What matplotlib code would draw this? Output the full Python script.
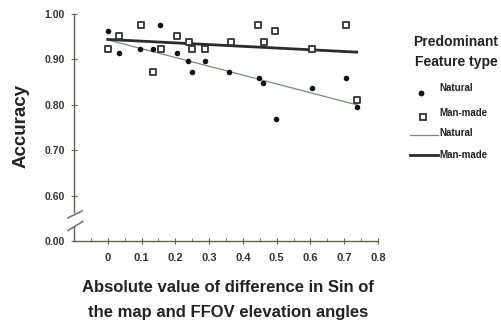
import matplotlib
matplotlib.use("Agg")
import matplotlib.pyplot as plt
from matplotlib.lines import Line2D

plt.rcParams['font.family'] = ['Liberation Sans', 'DejaVu Sans']

# Accuracy vs. |sin(map elevation) - sin(FFOV elevation)|
natural_x = [0.0, 0.033, 0.095, 0.133, 0.154, 0.204, 0.237, 0.25, 0.287, 0.36,
             0.447, 0.46, 0.497, 0.604, 0.704, 0.737]
natural_y = [0.962, 0.913, 0.924, 0.924, 0.976, 0.913, 0.896, 0.873, 0.896, 0.873,
             0.86, 0.847, 0.769, 0.836, 0.858, 0.796]

manmade_x = [0.0, 0.033, 0.098, 0.133, 0.157, 0.204, 0.24, 0.25, 0.287, 0.364,
             0.444, 0.462, 0.494, 0.604, 0.704, 0.737]
manmade_y = [0.922, 0.951, 0.976, 0.873, 0.924, 0.951, 0.938, 0.924, 0.924, 0.938,
             0.976, 0.938, 0.962, 0.924, 0.976, 0.811]

# Linear trend lines (endpoints)
fit_x = [0.0, 0.737]
natural_fit = [0.943, 0.800]
manmade_fit = [0.944, 0.916]

x_ticks = [0, 0.1, 0.2, 0.3, 0.4, 0.5, 0.6, 0.7, 0.8]
x_ticklabels = ["0", "0.1", "0.2", "0.3", "0.4", "0.5", "0.6", "0.7", "0.8"]
# broken axis: the bottom tick stands for 0.00
y_ticks = [0.5, 0.6, 0.7, 0.8, 0.9, 1.0]
y_ticklabels = ["0.00", "0.60", "0.70", "0.80", "0.90", "1.00"]

axis_col = "#5d6656"
nat_line_col = "#7a8c7a"
man_line_col = "#2b2b2b"
text_col = "#222222"

fig = plt.figure(figsize=(5.01, 3.24), dpi=100)
ax = fig.add_axes([74 / 501, 1 - 241 / 324, 304 / 501, 227 / 324])
ax.set_xlim(-0.1, 0.8)
ax.set_ylim(0.5, 1.0)

for s in ["top", "right", "left"]:
    ax.spines[s].set_visible(False)
ax.spines["bottom"].set_color(axis_col)
ax.spines["bottom"].set_linewidth(1.0)

ax.plot(fit_x, natural_fit, color=nat_line_col, lw=0.9, zorder=2)
ax.plot(fit_x, manmade_fit, color=man_line_col, lw=2.0, zorder=2)
ax.scatter(natural_x, natural_y, marker="o", s=16, color="#111111",
           linewidths=0, zorder=3)
ax.scatter(manmade_x, manmade_y, marker="s", s=15, facecolor="white",
           edgecolor="#333333", linewidths=1.3, zorder=3)

# left axis with break between 0.60 and 0.00
ax.plot([-0.1, -0.1], [1.0, 0.564], color=axis_col, lw=1.0, clip_on=False)
ax.plot([-0.1, -0.1], [0.53, 0.5], color=axis_col, lw=1.0, clip_on=False)
ax.plot([-0.118, -0.076], [0.551, 0.566], color="#777777", lw=1.2, clip_on=False)
ax.plot([-0.118, -0.074], [0.523, 0.543], color="#777777", lw=1.2, clip_on=False)

ax.set_xticks(x_ticks)
ax.set_xticklabels(x_ticklabels, fontsize=8, fontweight="bold", color="#333333")
ax.set_xticks([-0.1] + [v + 0.05 for v in x_ticks[:-1]] + [-0.05], minor=True)
ax.set_yticks(y_ticks)
ax.set_yticklabels(y_ticklabels, fontsize=7.5, fontweight="bold", color="#333333")
ax.tick_params(axis="x", which="major", direction="inout", length=5,
               color=axis_col, pad=6)
ax.tick_params(axis="x", which="minor", direction="in", length=2,
               color=axis_col)
ax.tick_params(axis="y", direction="inout", length=5, color=axis_col, pad=4)

fig.text(21 / 501, 1 - 126 / 324, "Accuracy", rotation=90, ha="center",
         va="center", fontsize=13.5, fontweight="bold", color=text_col)
fig.text(228 / 501, 1 - 287 / 324, "Absolute value of difference in Sin of",
         ha="center", va="center", fontsize=12, fontweight="bold", color=text_col)
fig.text(228 / 501, 1 - 312 / 324, "the map and FFOV elevation angles",
         ha="center", va="center", fontsize=12, fontweight="bold", color=text_col)

# legend
fig.text(456 / 501, 1 - 42 / 324, "Predominant", ha="center", va="center",
         fontsize=10, fontweight="bold", color=text_col)
fig.text(456 / 501, 1 - 62 / 324, "Feature type", ha="center", va="center",
         fontsize=10, fontweight="bold", color=text_col)

def fy(ypix):
    return 1 - ypix / 324

fig.add_artist(Line2D([421 / 501], [fy(93)], transform=fig.transFigure,
                      marker="o", ms=4.2, color="#111111", ls="none", mew=0))
fig.add_artist(Line2D([423 / 501], [fy(117)], transform=fig.transFigure,
                      marker="s", ms=4.2, mfc="white", mec="#333333", mew=1.3,
                      ls="none"))
fig.add_artist(Line2D([410 / 501, 438 / 501], [fy(135), fy(135)],
                      transform=fig.transFigure, color=nat_line_col, lw=0.9))
fig.add_artist(Line2D([410 / 501, 438 / 501], [fy(155), fy(155)],
                      transform=fig.transFigure, color=man_line_col, lw=2.0))
for ypix, label in [(88, "Natural"), (113, "Man-made"), (133, "Natural"),
                    (155, "Man-made")]:
    fig.text(439 / 501, fy(ypix), label, ha="left", va="center", fontsize=7,
             fontweight="bold", color=text_col)

fig.savefig("out.png", dpi=100)
